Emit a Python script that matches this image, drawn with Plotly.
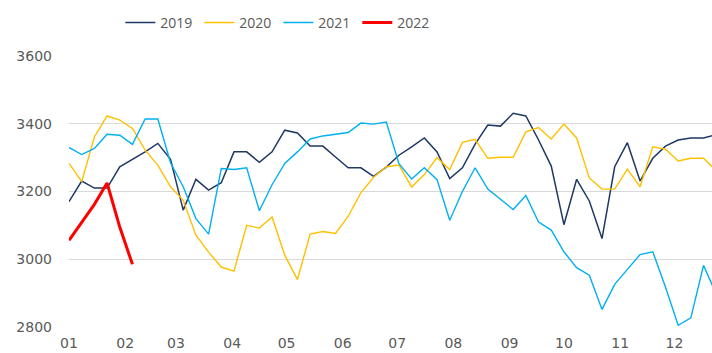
import pandas as pd
import plotly.graph_objects as go

# Weekly readings, one value per week starting in the first week of January
weeks = pd.date_range("2019-01-01", periods=52, freq="7D")

y2019 = [3170, 3231, 3210, 3210, 3273, 3295, 3317, 3342, 3295, 3145,
         3236, 3204, 3226, 3317, 3317, 3286, 3317, 3381, 3373, 3334,
         3334, 3302, 3270, 3270, 3245, 3272, 3307, 3332, 3358, 3317,
         3238, 3270, 3340, 3396, 3393, 3431, 3423, 3352, 3275, 3102,
         3236, 3172, 3061, 3273, 3344, 3231, 3298, 3334, 3352, 3358,
         3358, 3368]

y2020 = [3283, 3229, 3361, 3423, 3411, 3386, 3322, 3278, 3214, 3174,
         3071, 3021, 2977, 2965, 3100, 3092, 3125, 3012, 2940, 3074,
         3082, 3076, 3127, 3196, 3242, 3273, 3278, 3213, 3250, 3300,
         3265, 3345, 3354, 3298, 3301, 3301, 3376, 3389, 3355, 3399,
         3358, 3240, 3207, 3207, 3266, 3214, 3332, 3325, 3290, 3298,
         3298, 3262]

y2021 = [3330, 3309, 3327, 3369, 3366, 3339, 3414, 3414, 3285, 3214,
         3120, 3074, 3268, 3265, 3270, 3143, 3220, 3283, 3317, 3355,
         3364, 3369, 3374, 3402, 3399, 3405, 3282, 3237, 3270, 3235,
         3115, 3200, 3270, 3207, 3176, 3147, 3188, 3110, 3086, 3022,
         2975, 2953, 2852, 2926, 2970, 3014, 3022, 2918, 2805, 2827,
         2982, 2897]

y2022 = [3056, 3110, 3162, 3225, 3095, 2985]

series = [
    ("2019", y2019, "#1F3864", 1.5),
    ("2020", y2020, "#FFC000", 1.4),
    ("2021", y2021, "#00B0F0", 1.4),
    ("2022", y2022, "#FF0000", 3),
]

fig = go.Figure()
for name, vals, color, width in series:
    fig.add_trace(go.Scatter(
        x=weeks[:len(vals)], y=vals, name=name, mode="lines",
        line=dict(color=color, width=width),
    ))

gray = "#595959"
fig.update_layout(
    width=712, height=353,
    margin=dict(l=69, r=0, t=56, b=26),
    paper_bgcolor="white", plot_bgcolor="white",
    font=dict(family="DejaVu Sans", size=14, color=gray),
    showlegend=True,
    legend=dict(
        orientation="h", xref="container", yref="container",
        x=0.169, xanchor="left", y=0.935, yanchor="middle",
        font=dict(family="Open Sans", size=14, color=gray),
        itemwidth=30, entrywidth=34, bgcolor="rgba(0,0,0,0)",
    ),
    xaxis=dict(
        type="date",
        range=["2019-01-01", "2019-12-21 16:00"],
        tick0="2019-01-01", dtick="M1", tickformat="%m",
        showgrid=False, showline=False, zeroline=False,
        ticks="", ticklabelstandoff=6,
        tickfont=dict(family="DejaVu Sans", size=14, color=gray),
    ),
    yaxis=dict(
        range=[2800, 3600], dtick=200,
        showgrid=True, gridcolor="#D9D9D9", gridwidth=1,
        showline=False, zeroline=False, ticks="",
        ticklabelstandoff=16,
        tickfont=dict(family="DejaVu Sans", size=14, color=gray),
    ),
)

fig.write_html("out.html")
